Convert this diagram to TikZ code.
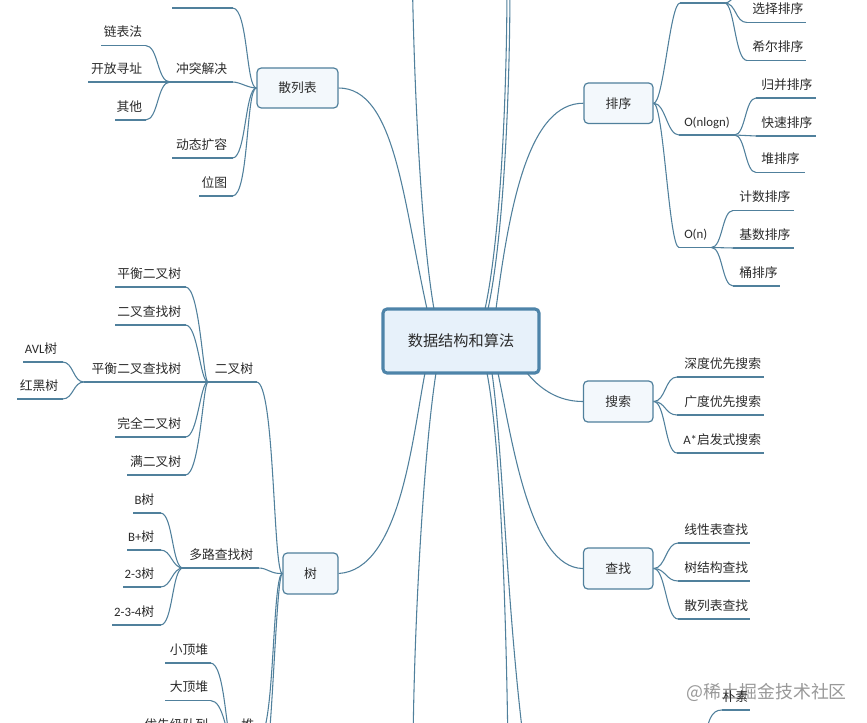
\documentclass[tikz,border=0pt]{standalone}
\usepackage{fontspec}
\setmainfont{Noto Sans CJK SC}
\newfontfamily\lat{Carlito}
\definecolor{linkc}{HTML}{50809C}
\definecolor{textc}{HTML}{2B2B2B}
\definecolor{boxfill}{HTML}{F3F8FC}
\definecolor{rootfill}{HTML}{E7F1FA}
\definecolor{rootline}{HTML}{4E84A9}
\tikzset{
  conn/.style={draw=linkc,line width=.8pt},
  tlabel/.style={inner xsep=0pt,inner ysep=0pt,text depth=6.4pt,text height=8pt,text=textc,font=\fontsize{9.6pt}{11pt}\selectfont},
  subbox/.style={draw=linkc,line width=.9pt,fill=boxfill,rounded corners=3.2pt,inner sep=0pt,text=textc,font=\fontsize{9.6pt}{11pt}\selectfont},
  rootbox/.style={draw=rootline,line width=2.3pt,fill=rootfill,rounded corners=3pt,inner sep=0pt,text=textc,font=\fontsize{11.4pt}{13pt}\selectfont},
}
% left branch label: line from xl to xr at y, text right edge at tr
\newcommand\lfnode[6]{%
  \pgfmathsetmacro\nw{(#3-#2)*.75}\pgfmathsetmacro\npad{(#3-#5)*.75}%
  \node[tlabel,text width=\nw pt,align=right,anchor=south west] (#1) at (#2,#4) {#6\hspace*{\npad pt}};%
  \draw[conn] (#1.south west) -- (#1.south east);}
% right branch label: text left edge at tl
\newcommand\rtnode[6]{%
  \pgfmathsetmacro\nw{(#3-#2)*.75}\pgfmathsetmacro\npad{(#5-#2)*.75}%
  \node[tlabel,text width=\nw pt,align=left,anchor=south west] (#1) at (#2,#4) {\hspace*{\npad pt}#6};%
  \draw[conn] (#1.south west) -- (#1.south east);}
\newcommand\bx[6]{%
  \pgfmathsetmacro\nw{(#3-#2)*.75}\pgfmathsetmacro\nh{(#5-#4)*.75}%
  \pgfmathsetmacro\cx{(#2+#3)/2}\pgfmathsetmacro\cy{(#4+#5)/2}%
  \node[subbox,minimum width=\nw pt,minimum height=\nh pt] (#1) at (\cx,\cy) {#6};}
\newcommand\lk[4]{\draw[conn] (#1) .. controls +(#3,0) and +(#4,0) .. (#2);}
\begin{document}
\begin{tikzpicture}[x=.75pt,y=-.75pt]
\clip (0,0) rectangle (867,723);
\fill[white] (0,0) rectangle (867,723);
% watermark
\node[text=black!40,font=\fontsize{13.4pt}{15pt}\selectfont,inner sep=0pt,anchor=east] (wm) at (847,692) {@稀土掘金技术社区};
% boxes
\node[rootbox,minimum width=117pt,minimum height=48pt] (root) at (461,341) {数据结构和算法};
\bx{hash}{257}{338}{68}{108}{散列表}
\bx{sort}{584}{653}{83}{123.5}{排序}
\bx{srch}{583.5}{653}{381}{422}{搜索}
\bx{find}{583.5}{653}{548}{589}{查找}
\bx{tree}{283}{338}{553}{594}{树}
% anchor points on the root border and off-page ends
\coordinate (rt1) at (427,309); \coordinate (rt2) at (434,309);
\coordinate (rt3) at (485,309); \coordinate (rt4) at (488,309); \coordinate (rt5) at (496,309);
\coordinate (rb1) at (425,373); \coordinate (rb2) at (436,373);
\coordinate (rb3) at (487,373); \coordinate (rb4) at (492,373); \coordinate (rb5) at (498,373);
\coordinate (rb6) at (527,373);
\coordinate (offa) at (412,-40); \coordinate (offb) at (507,-20); \coordinate (offc) at (510,-20);
\coordinate (offd) at (413,750); \coordinate (offe) at (508,750); \coordinate (offf) at (526,760);
\coordinate (offg) at (258,800); \coordinate (offh) at (704,745); \coordinate (offi) at (747,-15);
% root connectors
\draw[conn] (hash.east) .. controls (395,88) and (403,200) .. (rt1);
\draw[conn] (rt2) .. controls (422,240) and (414,100) .. (offa);
\draw[conn] (rt3) .. controls (500,240) and (507,100) .. (offb);
\draw[conn] (rt4) .. controls (503,240) and (510,100) .. (offc);
\draw[conn] (sort.west) .. controls (530,103) and (510,200) .. (rt5);
\draw[conn] (tree.east) .. controls (400,570) and (412,440) .. (rb1);
\draw[conn] (rb2) .. controls (424,450) and (414,620) .. (offd);
\draw[conn] (rb3) .. controls (500,440) and (506,600) .. (offe);
\draw[conn] (rb4) .. controls (503,450) and (507,620) .. (offf);
\draw[conn] (rb5) .. controls (512,440) and (530,568) .. (find.west);
\draw[conn] (rb6) .. controls (545,395) and (565,401.5) .. (srch.west);
% hash table
\lfnode{h1}{172}{232}{8}{227}{散列函数}
\lfnode{h2}{170}{232}{82}{227}{冲突解决}
\lfnode{h3}{172}{232}{158}{227}{动态扩容}
\lfnode{h4}{199}{232}{196}{227}{位图}
\draw[conn] (hash.west) .. controls (246,88) and (248,8) .. (h1.south east);
\draw[conn] (hash.west) .. controls (248,88) and (240,82) .. (h2.south east);
\draw[conn] (hash.west) .. controls (245,88) and (246,158) .. (h3.south east);
\draw[conn] (hash.west) .. controls (246,88) and (249,196) .. (h4.south east);
\lfnode{h21}{101}{145}{45.5}{142}{链表法}
\lfnode{h22}{88}{145}{82}{142}{开放寻址}
\lfnode{h23}{115}{145}{120}{142}{其他}
\lk{h2.south west}{h21.south east}{-13}{13}
\lk{h2.south west}{h23.south east}{-13}{13}
\draw[conn] (h2.south west) -- (h22.south east);
% tree
\lfnode{t1}{208}{256}{382}{253}{二叉树}
\lfnode{t2}{183}{258}{568}{253}{多路查找树}
\lfnode{t3}{231}{258}{738}{254}{堆}
\draw[conn] (tree.west) .. controls (273,574) and (275,382) .. (t1.south east);
\draw[conn] (tree.west) .. controls (270,574) and (268,568) .. (t2.south east);
\draw[conn] (tree.west) .. controls (272,574) and (275,738) .. (t3.south east);
\draw[conn] (tree.west) .. controls (275,574) and (272,800) .. (offg);
\lfnode{b1}{115}{185}{287}{181}{平衡二叉树}
\lfnode{b2}{115}{185}{325}{181}{二叉查找树}
\lfnode{b3}{84}{185}{382}{181}{平衡二叉查找树}
\lfnode{b4}{115}{185}{437}{181}{完全二叉树}
\lfnode{b5}{127}{185}{475}{181}{满二叉树}
\draw[conn] (t1.south west) .. controls (203,382) and (200,287) .. (b1.south east);
\draw[conn] (t1.south west) .. controls (200,382) and (198,325) .. (b2.south east);
\draw[conn] (t1.south west) -- (b3.south east);
\draw[conn] (t1.south west) .. controls (200,382) and (198,437) .. (b4.south east);
\draw[conn] (t1.south west) .. controls (203,382) and (200,475) .. (b5.south east);
\lfnode{b31}{23}{62}{362}{57}{{\lat AVL}树}
\lfnode{b32}{17}{62}{399}{58}{红黑树}
\lk{b3.south west}{b31.south east}{-11}{11}
\lk{b3.south west}{b32.south east}{-11}{11}
\lfnode{m1}{133}{160}{513}{154}{{\lat B}树}
\lfnode{m2}{127}{160}{550}{154}{{\lat B+}树}
\lfnode{m3}{123}{160}{587}{154}{{\lat 2-3}树}
\lfnode{m4}{112}{160}{625}{154}{{\lat 2-3-4}树}
\draw[conn] (t2.south west) .. controls (172,568) and (173,513) .. (m1.south east);
\lk{t2.south west}{m2.south east}{-11}{11}
\lk{t2.south west}{m3.south east}{-11}{11}
\draw[conn] (t2.south west) .. controls (172,568) and (173,625) .. (m4.south east);
\lfnode{p1}{165}{210}{663}{208}{小顶堆}
\lfnode{p2}{165}{210}{700.5}{208}{大顶堆}
\lfnode{p3}{135}{210}{738}{208}{优先级队列}
\draw[conn] (t3.south west) .. controls (226,738) and (225,663) .. (p1.south east);
\draw[conn] (t3.south west) .. controls (226,738) and (224,700.5) .. (p2.south east);
\draw[conn] (t3.south west) -- (p3.south east);
% sort
\rtnode{s1}{680}{724}{3}{684}{}
\rtnode{s2}{679}{734}{135}{684}{{\lat O(nlogn)}}
\rtnode{s3}{679}{711}{247.5}{684}{{\lat O(n)}}
\lk{sort.east}{s1.south west}{10}{-10}
\lk{sort.east}{s2.south west}{12}{-12}
\lk{sort.east}{s3.south west}{10}{-10}
\rtnode{s12}{747}{805}{22.5}{752}{选择排序}
\rtnode{s13}{747}{805}{60.5}{752}{希尔排序}
\lk{s1.south east}{offi}{10}{-10}
\lk{s1.south east}{s12.south west}{12}{-12}
\lk{s1.south east}{s13.south west}{10}{-12}
\rtnode{s21}{756}{815}{98}{761}{归并排序}
\rtnode{s22}{756}{815}{136}{761}{快速排序}
\rtnode{s23}{756}{804}{172.5}{761}{堆排序}
\lk{s2.south east}{s21.south west}{11}{-11}
\draw[conn] (s2.south east) -- (s22.south west);
\lk{s2.south east}{s23.south west}{11}{-11}
\rtnode{s31}{733}{793}{210.5}{739}{计数排序}
\rtnode{s32}{733}{793}{248}{739}{基数排序}
\rtnode{s33}{733}{779}{286}{739}{桶排序}
\lk{s3.south east}{s31.south west}{11}{-11}
\draw[conn] (s3.south east) -- (s32.south west);
\lk{s3.south east}{s33.south west}{11}{-11}
% search
\rtnode{q1}{677}{763}{377}{684}{深度优先搜索}
\rtnode{q2}{677}{763}{415}{684}{广度优先搜索}
\rtnode{q3}{677}{763}{453}{683}{{\lat A*}启发式搜索}
\lk{srch.east}{q1.south west}{12}{-12}
\lk{srch.east}{q2.south west}{12}{-12}
\lk{srch.east}{q3.south west}{12}{-12}
% find
\rtnode{f1}{678}{749}{543}{684}{线性表查找}
\rtnode{f2}{678}{749}{581}{684}{树结构查找}
\rtnode{f3}{678}{749}{619}{684}{散列表查找}
\lk{find.east}{f1.south west}{12}{-12}
\lk{find.east}{f2.south west}{12}{-12}
\lk{find.east}{f3.south west}{12}{-12}
% partial branch, bottom right
\lfnode{z1}{722}{749}{710}{748}{朴素}
\draw[conn] (z1.south west) .. controls (711,710) and (708,720) .. (offh);
\end{tikzpicture}
\end{document}
